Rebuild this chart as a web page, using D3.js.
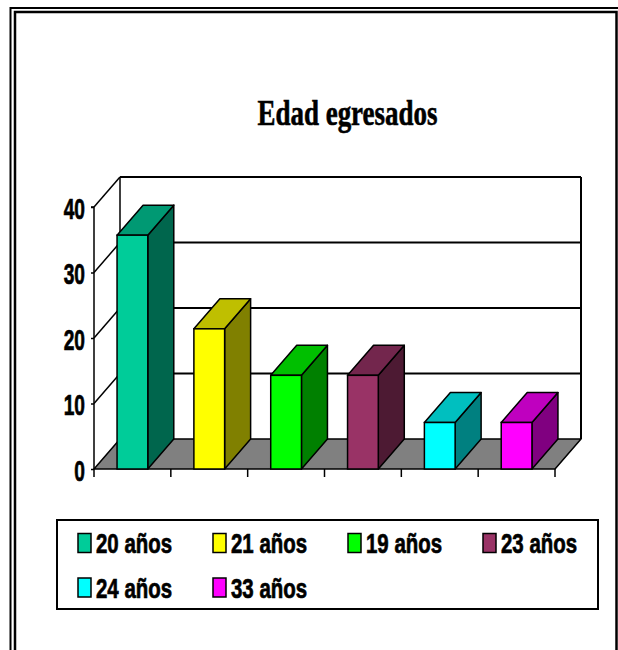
<!DOCTYPE html>
<html>
<head>
<meta charset="utf-8">
<script src="https://cdn.jsdelivr.net/npm/d3@7"></script>
<style>
  html, body { margin: 0; padding: 0; background: #fff; }
  svg { display: block; }
</style>
</head>
<body>
<div id="chart"></div>
<script>
// Data
const categories = ["20 años", "21 años", "19 años", "23 años", "24 años", "33 años"];
const values = [35.7, 21.4, 14.3, 14.3, 7.1, 7.1];
const yTicks = [0, 10, 20, 30, 40];
const frontColors = ["#00cc99", "#ffff00", "#00ff00", "#993366", "#00ffff", "#ff00ff"];

const W = 618, H = 650;
const depth = { dx: 26, dy: -30 };

const svg = d3.select("#chart").append("svg").attr("width", W).attr("height", H);

// Double frame
svg.append("rect").attr("x", 10.5).attr("y", 8).attr("width", 620).attr("height", 660)
  .style("fill", "none").style("stroke", "#000").style("stroke-width", 2);
svg.append("rect").attr("x", 15).attr("y", 12).attr("width", 601.5).attr("height", 660)
  .style("fill", "none").style("stroke", "#000").style("stroke-width", 2.5);

// Title
svg.append("text")
  .attr("x", 347.5).attr("y", 125)
  .attr("text-anchor", "middle")
  .attr("textLength", 180).attr("lengthAdjust", "spacingAndGlyphs")
  .style("font-family", "'Liberation Serif', 'Times New Roman', serif")
  .style("font-weight", "bold").style("font-size", "36px")
  .style("stroke", "#000").style("stroke-width", 0.6)
  .text("Edad egresados");

// Scales
const x = d3.scaleBand().domain(categories).range([94, 555]).padding(0);
const y = d3.scaleLinear().domain([0, 40]).range([469, 207]);
const barW = x.bandwidth() * 0.4;

const g = svg.append("g");

// Back wall gridlines and side wall diagonals
yTicks.forEach(t => {
  const yf = y(t);
  if (t > 0) {
    g.append("line")
      .attr("x1", x.range()[0] + depth.dx).attr("x2", x.range()[1] + depth.dx)
      .attr("y1", yf + depth.dy).attr("y2", yf + depth.dy)
      .style("stroke", "#000").style("stroke-width", 2);
    g.append("line")
      .attr("x1", x.range()[0]).attr("y1", yf)
      .attr("x2", x.range()[0] + depth.dx).attr("y2", yf + depth.dy)
      .style("stroke", "#000").style("stroke-width", 1.5);
  }
});
// back wall edges
g.append("line")
  .attr("x1", x.range()[0] + depth.dx).attr("x2", x.range()[0] + depth.dx)
  .attr("y1", y(40) + depth.dy).attr("y2", y(0) + depth.dy)
  .style("stroke", "#000").style("stroke-width", 1.5);
g.append("line")
  .attr("x1", x.range()[1] + depth.dx).attr("x2", x.range()[1] + depth.dx)
  .attr("y1", y(40) + depth.dy).attr("y2", y(0) + depth.dy)
  .style("stroke", "#000").style("stroke-width", 2);

// Floor
const fx0 = x.range()[0], fx1 = x.range()[1], fy = y(0);
g.append("path")
  .attr("d", `M${fx0},${fy}L${fx1},${fy}L${fx1 + depth.dx},${fy + depth.dy}L${fx0 + depth.dx},${fy + depth.dy}Z`)
  .style("fill", "#808080").style("stroke", "#000").style("stroke-width", 1.5)
  .style("stroke-linejoin", "round");

// Bars
const shade = (c, k) => {
  const col = d3.rgb(c);
  return d3.rgb(col.r * k, col.g * k, col.b * k).formatHex();
};

categories.forEach((c, i) => {
  const x0 = x(c) + (x.bandwidth() - barW) / 2;
  const x1 = x0 + barW;
  const yv = y(values[i]);
  const y0 = y(0);
  const bar = g.append("g");
  // side
  bar.append("path")
    .attr("d", `M${x1},${yv}L${x1 + depth.dx},${yv + depth.dy}L${x1 + depth.dx},${y0 + depth.dy}L${x1},${y0}Z`)
    .style("fill", shade(frontColors[i], 0.5))
    .style("stroke", "#000").style("stroke-width", 1.5).style("stroke-linejoin", "round");
  // top
  bar.append("path")
    .attr("d", `M${x0},${yv}L${x1},${yv}L${x1 + depth.dx},${yv + depth.dy}L${x0 + depth.dx},${yv + depth.dy}Z`)
    .style("fill", shade(frontColors[i], 0.75))
    .style("stroke", "#000").style("stroke-width", 1.5).style("stroke-linejoin", "round");
  // front
  bar.append("rect")
    .attr("x", x0).attr("y", yv).attr("width", barW).attr("height", y0 - yv)
    .style("fill", frontColors[i])
    .style("stroke", "#000").style("stroke-width", 1.5);
});

// Y axis
const yAxis = g.append("g").attr("transform", `translate(${x.range()[0]},0)`)
  .call(d3.axisLeft(y).tickValues(yTicks).tickSize(3).tickFormat(d3.format("d")));
yAxis.select(".domain").style("stroke", "#000").style("stroke-width", 1.5).attr("d", `M-3,${y(40)}H0V${y(0)}`);
yAxis.selectAll(".tick line").style("stroke", "#000").style("stroke-width", 1.5);
yAxis.selectAll(".tick text")
  .attr("x", null).attr("dy", null)
  .attr("transform", "translate(-9,11) scale(0.66,1)")
  .style("font-family", "'Liberation Sans', Arial, sans-serif")
  .style("font-weight", "bold").style("font-size", "29px").style("fill", "#000")
  .style("stroke", "#000").style("stroke-width", 0.7);

// X axis ticks at band boundaries
const xEdges = categories.map(c => x(c)).concat([x.range()[1]]);
g.selectAll(".xtick").data(xEdges).enter().append("line")
  .attr("class", "xtick")
  .attr("x1", d => d).attr("x2", d => d)
  .attr("y1", y(0)).attr("y2", y(0) + 8)
  .style("stroke", "#000").style("stroke-width", 1.5);

// Legend
const legend = svg.append("g");
legend.append("rect").attr("x", 57).attr("y", 520).attr("width", 541).attr("height", 89)
  .style("fill", "#fff").style("stroke", "#000").style("stroke-width", 2);

const colX = [78, 213, 348, 483];
const rowY = [543, 587.5];
categories.forEach((c, i) => {
  const cx = colX[i % 4], cy = rowY[Math.floor(i / 4)];
  const item = legend.append("g").attr("transform", `translate(${cx},${cy})`);
  item.append("rect").attr("x", 0).attr("y", -9.5).attr("width", 13).attr("height", 19)
    .style("fill", frontColors[i]).style("stroke", "#000").style("stroke-width", 1.5);
  item.append("text")
    .attr("transform", "translate(18,10) scale(0.73,1)")
    .style("font-family", "'Liberation Sans', Arial, sans-serif")
    .style("font-weight", "bold").style("font-size", "28px").style("fill", "#000")
    .style("stroke", "#000").style("stroke-width", 0.7)
    .text(c);
});
</script>
</body>
</html>
